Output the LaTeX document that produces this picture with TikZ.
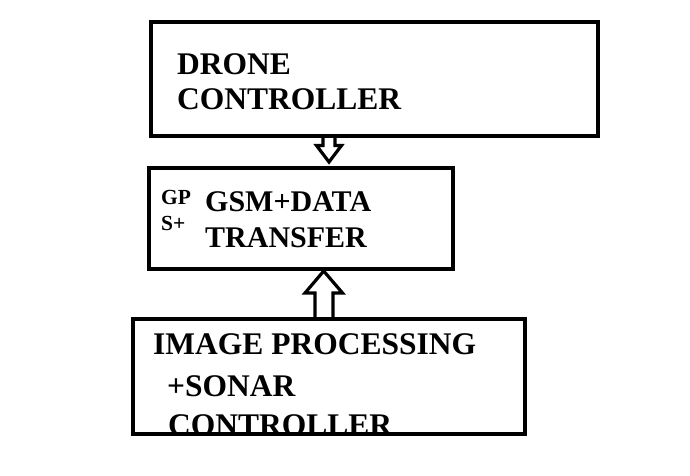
\documentclass[tikz,border=0pt]{standalone}
\usepackage{fontspec}
\setmainfont{Liberation Serif}
\begin{document}
\begin{tikzpicture}[x=1pt,y=-1pt,
  boxline/.style={line width=4pt},
  arrline/.style={line width=3.2pt,line join=miter},
  bigtxt/.style={anchor=base west,inner sep=0pt,font=\fontsize{31.5}{31.5}\selectfont\bfseries},
  midtxt/.style={anchor=base west,inner sep=0pt,font=\fontsize{30}{30}\selectfont\bfseries},
  smalltxt/.style={anchor=base west,inner sep=0pt,font=\fontsize{21.5}{21.5}\selectfont\bfseries}]
\useasboundingbox[fill=white] (0,0) rectangle (690,475);
% texts
\node[bigtxt] (t1a) at (177,74) {DRONE};
\node[bigtxt] (t1b) at (177,109) {CONTROLLER};
\node[smalltxt] (t2s1) at (161,204) {GP};
\node[smalltxt] (t2s2) at (161,230) {S+};
\node[midtxt] (t2a) at (205,211) {GSM+DATA};
\node[midtxt] (t2b) at (205,247) {TRANSFER};
\node[bigtxt] (t3a) at (153,354) {IMAGE PROCESSING};
\node[bigtxt] (t3b) at (167,396) {+SONAR};
\node[bigtxt] (t3c) at (168,435) {CONTROLLER};
% boxes
\draw[boxline] (151,22) rectangle (598,136);
\draw[boxline] (149,168) rectangle (453,269);
\fill[white] (131,436) rectangle (527,460);
\draw[boxline] (133,319) rectangle (525,434);
% block arrows
\draw[arrline] (323,136) -- (323,145.5) -- (316.5,145.5) -- (329,162) -- (341.5,145.5) -- (335,145.5) -- (335,136);
\draw[arrline] (315,317) -- (315,293) -- (305,293) -- (323.7,271) -- (342.5,293) -- (333,293) -- (333,317);
\end{tikzpicture}
\end{document}
